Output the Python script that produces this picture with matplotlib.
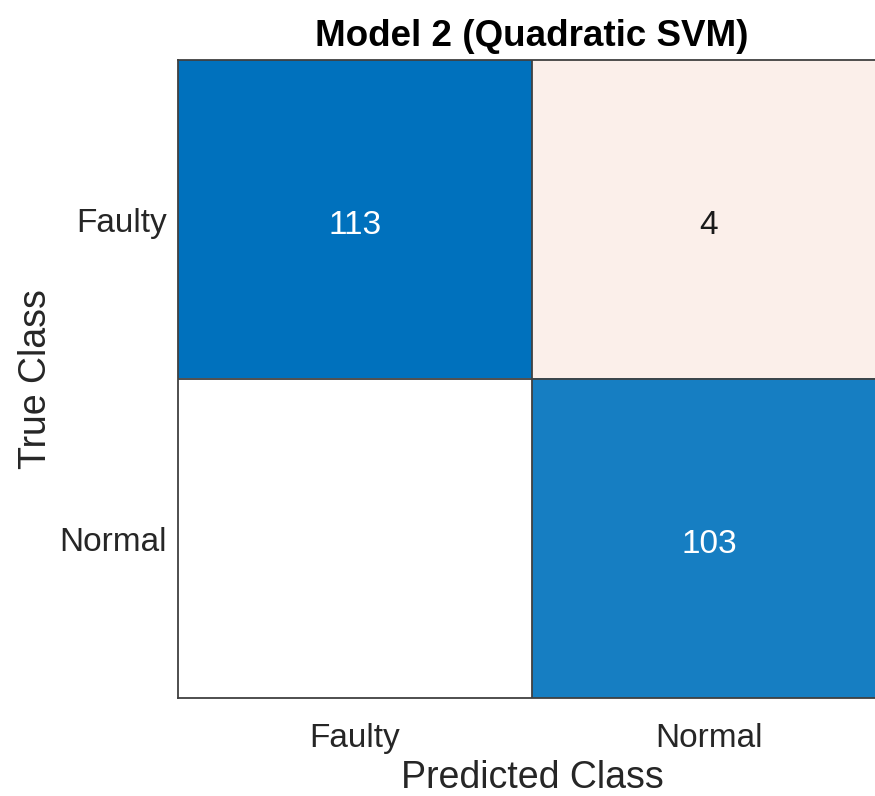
import numpy as np
import matplotlib.pyplot as plt
from matplotlib.colors import to_rgb

plt.rcParams["font.family"] = ["Liberation Sans", "DejaVu Sans"]

classes = ["Faulty", "Normal"]
counts = np.array([[113, 4],
                   [0, 103]])

diag_color = np.array(to_rgb("#0072BD"))
off_color = np.array(to_rgb("#D95319"))
white = np.ones(3)

# cell shading like MATLAB confusionchart: diagonal blue, off-diagonal red
vmax = counts.max()
rgb = np.zeros(counts.shape + (3,))
for i in range(counts.shape[0]):
    for j in range(counts.shape[1]):
        if i == j:
            f = counts[i, j] / vmax
            rgb[i, j] = white + f * (diag_color - white)
        else:
            f = min(1.0, counts[i, j] / 45.0)
            rgb[i, j] = white + f * (off_color - white)

fig = plt.figure(figsize=(8.75, 7.96), dpi=100)
ax = fig.add_axes([0.2034, 0.1231, 0.8092, 0.8015])
ax.imshow(rgb, aspect="auto", interpolation="nearest")

for i in range(counts.shape[0]):
    for j in range(counts.shape[1]):
        if counts[i, j] == 0:
            continue
        col = "white" if i == j else "#1a1a1a"
        ax.text(j, i + 0.02, str(counts[i, j]), ha="center", va="center",
                fontsize=24, color=col)

n = len(classes)
for k in range(1, n):
    ax.axhline(k - 0.5, color="#404040", lw=1.3)
    ax.axvline(k - 0.5, color="#404040", lw=1.3)

ax.set_xticks(range(n))
ax.set_xticklabels(classes)
ax.set_yticks(range(n))
ax.set_yticklabels(classes)
ax.tick_params(length=0, labelsize=24, colors="#262626")
ax.tick_params(axis="x", pad=18)
ax.tick_params(axis="y", pad=8)

for s in ax.spines.values():
    s.set_color("#404040")
    s.set_linewidth(1.3)

ax.set_xlabel("Predicted Class", fontsize=27, color="#262626", labelpad=4)
ax.set_ylabel("True Class", fontsize=27, color="#262626", labelpad=4)
ax.set_title("Model 2 (Quadratic SVM)", fontsize=26.5, fontweight="bold", pad=10)

fig.savefig("out.png", dpi=100)
plt.close(fig)
